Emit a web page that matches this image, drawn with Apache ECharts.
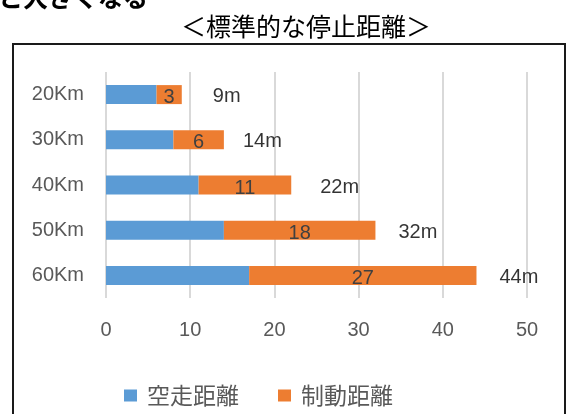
<!DOCTYPE html>
<html>
<head>
<meta charset="utf-8">
<script src="https://cdn.jsdelivr.net/npm/echarts@6/dist/echarts.min.js"></script>
<style>html,body{margin:0;padding:0;background:#fff;}#c{width:568px;height:414px;}</style>
</head>
<body>
<div id="c"></div>
<script>
const categories = ['20Km', '30Km', '40Km', '50Km', '60Km'];
const idleDistance = [6, 8, 11, 14, 17];
const brakeDistance = [3, 6, 11, 18, 27];
const totalDistance = [9, 14, 22, 32, 44];
const xTicks = { min: 0, max: 50, interval: 10 };
const seriesNames = ['空走距離', '制動距離'];
const totalLabelDx = [31, 19, 29, 23, 23];

const FONT = '"Liberation Sans", Arial, "Noto Sans CJK JP", sans-serif';
const CJK = '"Noto Sans CJK JP", sans-serif';

const chart = echarts.init(document.getElementById('c'), null, { renderer: 'canvas' });
chart.setOption({
  animation: false,
  backgroundColor: '#fff',
  grid: { left: 106, right: 41, top: 72, bottom: 116, containLabel: false },
  legend: {
    data: seriesNames,
    left: 124,
    top: 384,
    padding: 0,
    itemWidth: 13,
    itemHeight: 12,
    itemGap: 39,
    icon: 'rect',
    textStyle: { color: '#595959', fontSize: 23, fontFamily: CJK, padding: [0, 0, 0, 5] }
  },
  xAxis: {
    type: 'value',
    min: xTicks.min, max: xTicks.max, interval: xTicks.interval,
    axisLine: { show: false },
    axisTick: { show: false },
    axisLabel: { color: '#595959', fontSize: 20, fontFamily: FONT, margin: 22 },
    splitLine: { lineStyle: { color: '#d9d9d9', width: 2 } }
  },
  yAxis: {
    type: 'category',
    data: categories,
    inverse: true,
    axisLine: { show: false },
    axisTick: { show: false },
    axisLabel: { color: '#595959', fontSize: 20, fontFamily: FONT, margin: 22 }
  },
  series: [
    {
      name: seriesNames[0], type: 'bar', stack: 'd', data: idleDistance,
      barWidth: 19,
      itemStyle: { color: '#5B9BD5' }
    },
    {
      name: seriesNames[1], type: 'bar', stack: 'd', data: brakeDistance,
      barWidth: 19,
      itemStyle: { color: '#ED7D31' },
      label: { show: true, position: 'inside', color: '#404040', fontSize: 20, fontFamily: FONT, offset: [0, 3] }
    },
    {
      name: 'total', type: 'scatter', symbolSize: 0, silent: true,
      data: totalDistance.map((v, i) => ({
        value: [v, categories[i]],
        label: { offset: [totalLabelDx[i], 2] }
      })),
      label: {
        show: true, position: 'right', distance: 0,
        formatter: p => p.value[0] + 'm',
        color: '#000', fontSize: 20, fontFamily: FONT
      }
    }
  ],
  graphic: [
    {
      type: 'rect', silent: true,
      shape: { x: 13, y: 44, width: 552, height: 420 },
      style: { fill: 'none', stroke: '#1a1a1a', lineWidth: 2 }
    },
    {
      type: 'text', silent: true, x: 306, y: 26,
      style: { text: '＜標準的な停止距離＞', fill: '#000', font: '25px ' + CJK, textAlign: 'center', textVerticalAlign: 'middle' }
    },
    {
      type: 'text', silent: true, x: -2, y: 10,
      style: { text: 'と大きくなる', fill: '#000', font: 'bold 25px ' + CJK, textAlign: 'left', textVerticalAlign: 'bottom' }
    }
  ]
});
</script>
</body>
</html>
